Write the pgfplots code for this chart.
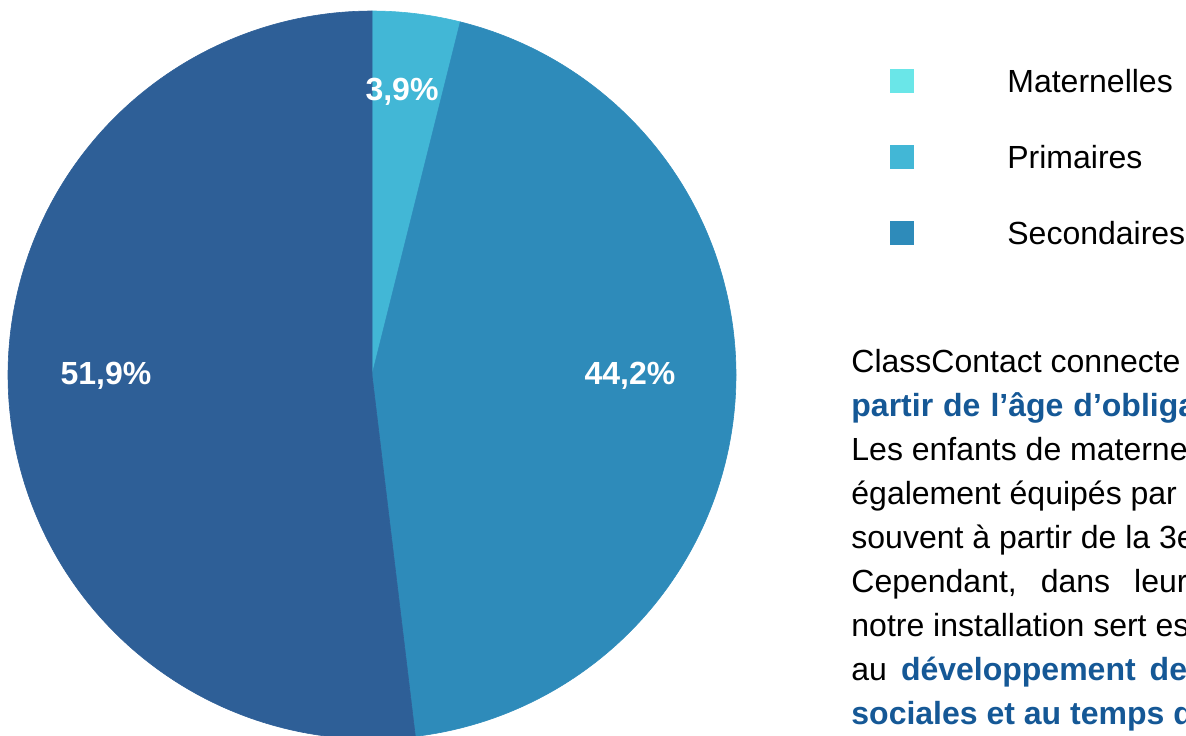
\documentclass[border=0pt]{standalone}
\usepackage{pgfplots}
\pgfplotsset{compat=1.18}
\usepackage{fontspec}
\setmainfont{Liberation Sans}
\definecolor{cMat}{RGB}{106,230,232}
\definecolor{cPri}{RGB}{66,183,214}
\definecolor{cSec}{RGB}{46,139,186}
\definecolor{cOth}{RGB}{46,95,151}
\definecolor{cBlue}{RGB}{21,88,150}
% slice values (percent), clockwise from the top
\def\va{3.9}
\def\vb{44.2}
\def\vc{51.9}
\pgfmathsetmacro\aA{90}
\pgfmathsetmacro\aB{\aA-3.6*\va}
\pgfmathsetmacro\aC{\aB-3.6*\vb}
\pgfmathsetmacro\aD{\aC-3.6*\vc}
\newcommand\pfont{\fontsize{16}{19}\selectfont}
\begin{document}
\begin{tikzpicture}
\useasboundingbox (0,0) rectangle (593pt,367.5pt);
\clip (0,0) rectangle (593pt,367.5pt);
\begin{axis}[
  at={(0,0)}, anchor=south west,
  scale only axis, width=593pt, height=367.5pt,
  xmin=0, xmax=1186, ymin=0, ymax=735, y dir=reverse,
  hide axis, clip=true,
  legend image code/.code={\fill[#1, draw=none] (0pt,-4.5pt) rectangle (12pt,7.5pt);},
  legend style={at={(axis description cs:0.7504,0.9075)}, anchor=north west,
    draw=none, fill=none, inner sep=0pt, row sep=22pt, column sep=0pt,
    font=\fontsize{16}{19}\selectfont,
    nodes={inner sep=0pt, text height=12pt, text depth=4pt},
    /tikz/every odd column/.append style={column sep=46.5pt}},
  legend cell align=left,
]
\addplot[forget plot, fill=cPri, draw=cPri, line width=0.3pt, domain=\aB:\aA, samples=40]
  ({372+364*cos(x)},{375-364*sin(x)}) -- (372,375) -- cycle;
\addplot[forget plot, fill=cSec, draw=cSec, line width=0.3pt, domain=\aC:\aB, samples=200]
  ({372+364*cos(x)},{375-364*sin(x)}) -- (372,375) -- cycle;
\addplot[forget plot, fill=cOth, draw=cOth, line width=0.3pt, domain=\aD:\aC, samples=200]
  ({372+364*cos(x)},{375-364*sin(x)}) -- (372,375) -- cycle;
\addlegendimage{fill=cMat}\addlegendentry{Maternelles}
\addlegendimage{fill=cPri}\addlegendentry{Primaires}
\addlegendimage{fill=cSec}\addlegendentry{Secondaires}
\begin{scope}[every node/.style={text=white, font=\bfseries\fontsize{16}{19}\selectfont}]
\node at (402,92) {3,9\%};
\node at (106,376) {51,9\%};
\node at (630,376) {44,2\%};
\end{scope}
\begin{scope}[every node/.style={anchor=base west, inner sep=0pt, font=\pfont}]
\node at (851,372) {ClassContact\hspace{4.5pt}connecte\hspace{10pt}les\hspace{5pt}élèves\hspace{5pt}à};
\node[text=cBlue, font=\pfont\bfseries] at (851,416) {partir\hspace{5pt}de\hspace{5pt}l’âge\hspace{5pt}d’obligation\hspace{5pt}scolaire.};
\node at (851,460) {Les enfants de maternelle sont};
\node at (851,504) {également équipés par nos écoles,};
\node at (851,548) {souvent à partir de la 3e maternelle.};
\node at (851,592) {Cependant,\hspace{12pt}dans\hspace{12pt}leur\hspace{12pt}cas,};
\node at (851,636) {notre installation sert essentiellement};
\node at (851,680) {au\hspace{7pt}\textcolor{cBlue}{\bfseries développement\hspace{7pt}des\hspace{7pt}compétences}};
\node[text=cBlue, font=\pfont\bfseries] at (851,724) {sociales et au temps de jeu.};
\end{scope}
\end{axis}
\end{tikzpicture}
\end{document}
